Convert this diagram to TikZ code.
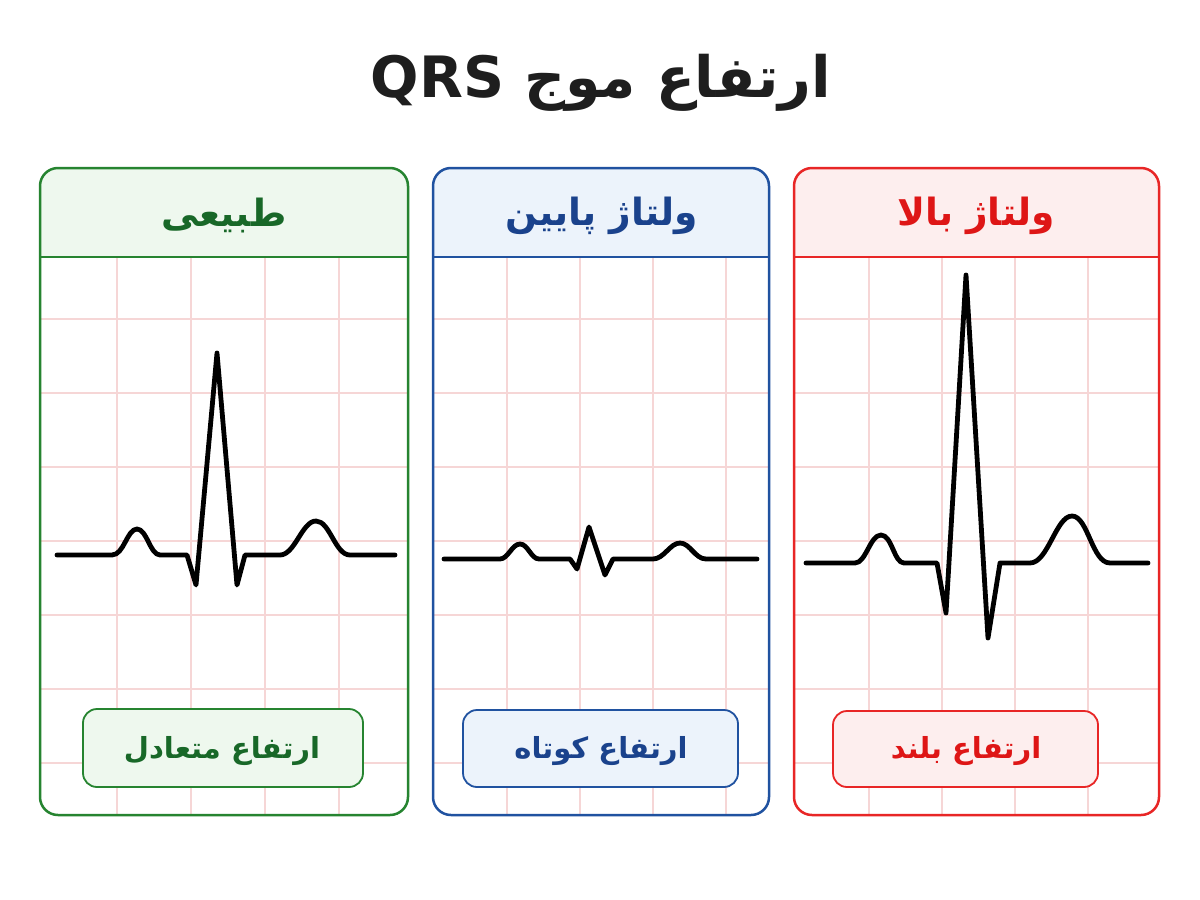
\documentclass[tikz,border=0pt]{standalone}
\usepackage{fontspec}
\TeXXeTstate=1
\newfontfamily\arabicfont[Script=Arabic]{DejaVu Sans}
\definecolor{gborder}{RGB}{38,132,48}
\definecolor{gtext}{RGB}{24,104,40}
\definecolor{gbg}{RGB}{238,248,238}
\definecolor{bborder}{RGB}{32,82,160}
\definecolor{btext}{RGB}{26,66,140}
\definecolor{bbg}{RGB}{236,243,251}
\definecolor{rborder}{RGB}{232,38,38}
\definecolor{rtext}{RGB}{222,22,22}
\definecolor{rbg}{RGB}{253,238,238}
\definecolor{gridc}{RGB}{246,214,214}
\definecolor{titlec}{RGB}{30,30,30}
\tikzset{
  panelborder/.style={line width=2.5pt, rounded corners=18pt},
  gridline/.style={draw=gridc, line width=1.3pt},
  wave/.style={draw=black, line width=4.8pt, line join=round, line cap=round},
  labelbox/.style={line width=1.8pt, rounded corners=14pt},
  headtext/.style={font=\arabicfont\bfseries\fontsize{37.5}{44}\selectfont, inner sep=0pt},
  labtext/.style={font=\arabicfont\bfseries\fontsize{29}{34}\selectfont, inner sep=0pt},
}
\begin{document}
\begin{tikzpicture}[x=1pt,y=-1pt]
\useasboundingbox (0,0) rectangle (1200,900);
\fill[white] (0,0) rectangle (1200,900);

% title
\node[font=\arabicfont\bfseries\fontsize{57}{66}\selectfont, text=titlec, inner sep=0pt] (title) at (601,83) {\beginR ارتفاع موج \beginL QRS\endL\endR};

% ---------- green panel ----------
\fill[white, rounded corners=18pt] (40,168) rectangle (408,815);
\begin{scope}
  \clip[rounded corners=18pt] (40,168) rectangle (408,815);
  \fill[gbg] (40,168) rectangle (408,257);
  \foreach \x in {117,191,265,339} \draw[gridline] (\x,257) -- (\x,815);
  \foreach \y in {319,393,467,541,615,689,763} \draw[gridline] (40,\y) -- (408,\y);
\end{scope}
\draw[gborder, line width=2pt] (40,257) -- (408,257);
\draw[gborder, panelborder] (40,168) rectangle (408,815);
\node[headtext, text=gtext] (gh) at (224,216) {\beginR طبیعی\endR};
\draw[wave] (57,555) -- (112,555) .. controls (124,555) and (127,529) .. (137,529) .. controls (147,529) and (150,555) .. (160,555) -- (187,555) -- (196,585) -- (217,353) -- (237,585) -- (245,555) -- (280,555) .. controls (295,555) and (302,521) .. (316,521) .. controls (330,521) and (335,555) .. (350,555) -- (395,555);
\draw[labelbox, draw=gborder, fill=gbg] (83,709) rectangle (363,787);
\node[labtext, text=gtext] (gl) at (222,751) {\beginR ارتفاع متعادل\endR};

% ---------- blue panel ----------
\fill[white, rounded corners=18pt] (433,168) rectangle (769,815);
\begin{scope}
  \clip[rounded corners=18pt] (433,168) rectangle (769,815);
  \fill[bbg] (433,168) rectangle (769,257);
  \foreach \x in {507,580,653,726} \draw[gridline] (\x,257) -- (\x,815);
  \foreach \y in {319,393,467,541,615,689,763} \draw[gridline] (433,\y) -- (769,\y);
\end{scope}
\draw[bborder, line width=2pt] (433,257) -- (769,257);
\draw[bborder, panelborder] (433,168) rectangle (769,815);
\node[headtext, text=btext] (bh) at (602,216) {\beginR ولتاژ پایین\endR};
\draw[wave] (444,559) -- (500,559) .. controls (508,559) and (512,544) .. (520,544) .. controls (528,544) and (531,559) .. (539,559) -- (570,559) -- (577,569) -- (589,527) -- (605,575) -- (613,559) -- (653,559) .. controls (664,559) and (670,543) .. (680,543) .. controls (690,543) and (695,559) .. (706,559) -- (757,559);
\draw[labelbox, draw=bborder, fill=bbg] (463,710) rectangle (738,787);
\node[labtext, text=btext] (bl) at (601,751) {\beginR ارتفاع کوتاه\endR};

% ---------- red panel ----------
\fill[white, rounded corners=18pt] (794,168) rectangle (1159,815);
\begin{scope}
  \clip[rounded corners=18pt] (794,168) rectangle (1159,815);
  \fill[rbg] (794,168) rectangle (1159,257);
  \foreach \x in {869,942,1015,1088} \draw[gridline] (\x,257) -- (\x,815);
  \foreach \y in {319,393,467,541,615,689,763} \draw[gridline] (794,\y) -- (1159,\y);
\end{scope}
\draw[rborder, line width=2pt] (794,257) -- (1159,257);
\draw[rborder, panelborder] (794,168) rectangle (1159,815);
\node[headtext, text=rtext] (rh) at (976,216) {\beginR ولتاژ بالا\endR};
\draw[wave] (806,563) -- (855,563) .. controls (866,563) and (870,535) .. (881,535) .. controls (892,535) and (894,563) .. (904,563) -- (937,563) -- (946,613) -- (966,275) -- (988,638) -- (1000,563) -- (1030,563) .. controls (1048,563) and (1056,516) .. (1072,516) .. controls (1088,516) and (1092,563) .. (1110,563) -- (1148,563);
\draw[labelbox, draw=rborder, fill=rbg] (833,711) rectangle (1098,787);
\node[labtext, text=rtext] (rl) at (966,751) {\beginR ارتفاع بلند\endR};
\end{tikzpicture}
\end{document}
